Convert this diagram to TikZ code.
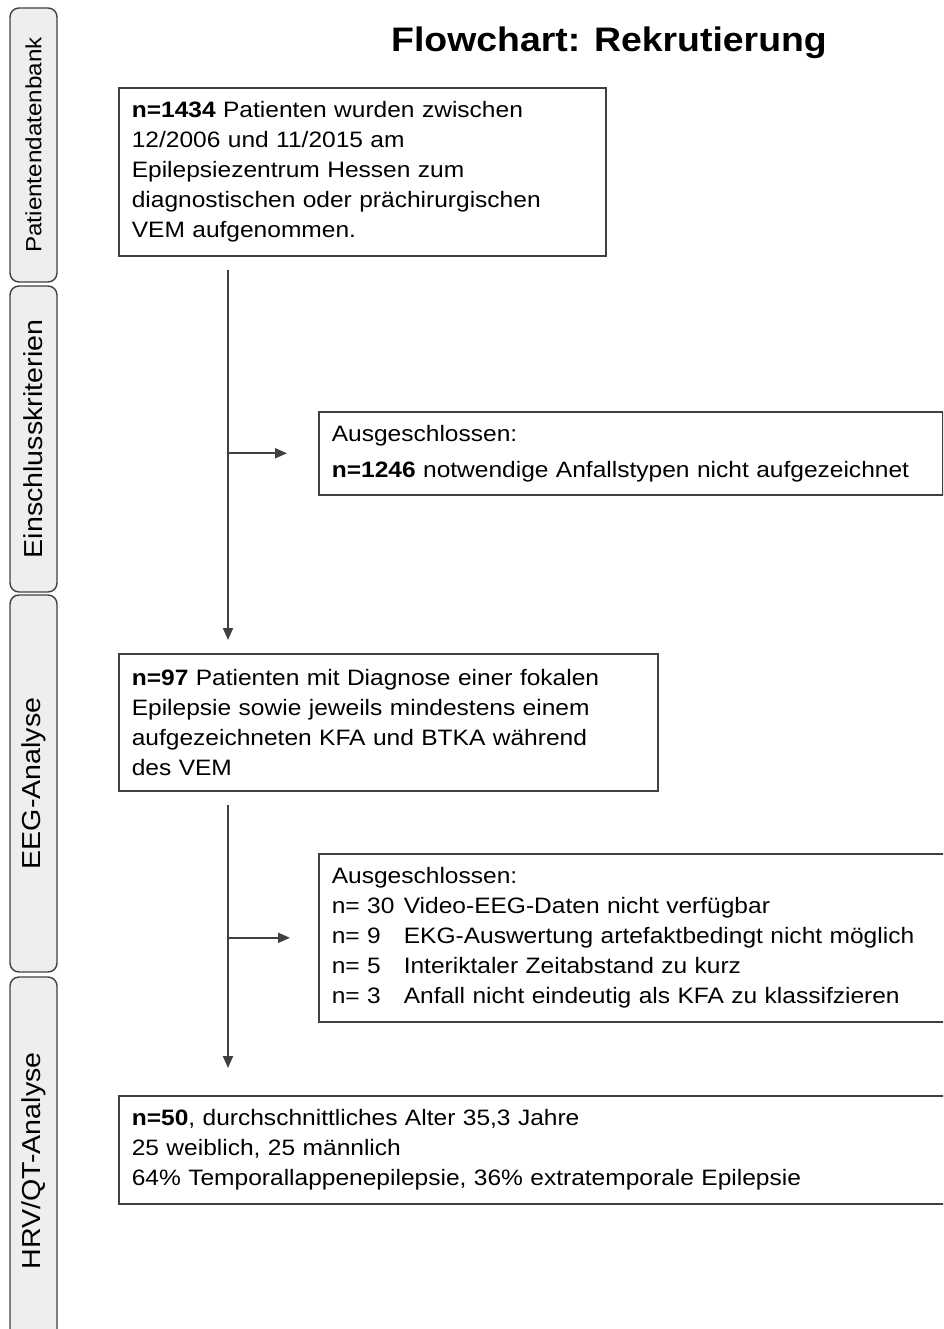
\documentclass[tikz,border=0pt]{standalone}
\usepackage{fontspec}
\setmainfont{Liberation Sans}[FakeStretch=1.1]
\usepackage{xcolor}
\usetikzlibrary{arrows.meta,positioning}
\definecolor{edgegray}{RGB}{64,64,64}
\definecolor{barfill}{RGB}{238,238,238}
\newcommand{\exclrow}[2]{\makebox[72pt][l]{#1}#2}

\begin{document}
\begin{tikzpicture}[x=1pt,y=-1pt,
  font=\fontsize{22.3}{30}\selectfont,
  box/.style={draw=edgegray,line width=1.6pt,anchor=north west,align=left,inner xsep=13pt,inner ysep=0pt},
  bar/.style={draw=edgegray,fill=barfill,line width=1.4pt,rounded corners=9pt,rotate=90,
    minimum height=47pt,inner sep=0pt,font=\fontsize{26}{30}\selectfont},
  arr/.style={-{Triangle[length=12pt,width=10pt]},draw=edgegray,line width=1.9pt}]
\useasboundingbox (0,0) rectangle (943,1329);
\clip (0,0) rectangle (943,1329);
% phase bars on the left
\node[bar,minimum width=274pt,font=\fontsize{22}{30}\selectfont] (pdb) at (33.5,145) {Patientendatenbank};
\node[bar,minimum width=306pt] (ein) at (33.5,439) {Einschlusskriterien};
\node[bar,minimum width=377pt] (eeg) at (33.5,783.5) {EEG-Analyse};
\node[bar,minimum width=368pt] (hrv) at (33.5,1161) {HRV/QT-Analyse};
\node[font=\fontsize{34}{40}\selectfont\bfseries,anchor=base] (title) at (609,52) {Flowchart: Rekrutierung};
% flow boxes
\node[box,text width=461pt,minimum height=168pt] (pool) at (118,87)
  {\textbf{n=1434} Patienten wurden zwischen\\12/2006 und 11/2015 am\\Epilepsiezentrum Hessen zum\\diagnostischen oder prächirurgischen\\VEM aufgenommen.};
\node[box,text width=598pt,minimum height=83pt] (excl1) at (318,411)
  {Ausgeschlossen:\\[6pt]\textbf{n=1246} notwendige Anfallstypen nicht aufgezeichnet};
\node[box,text width=513pt,minimum height=137pt] (epi) at (118,653)
  {\textbf{n=97} Patienten mit Diagnose einer fokalen\\Epilepsie sowie jeweils mindestens einem\\aufgezeichneten KFA und BTKA während\\des VEM};
\node[box,text width=640pt,minimum height=168pt] (excl2) at (318,853)
  {Ausgeschlossen:\\\exclrow{n= 30}{Video-EEG-Daten nicht verfügbar}\\\exclrow{n= 9}{EKG-Auswertung artefaktbedingt nicht möglich}\\\exclrow{n= 5}{Interiktaler Zeitabstand zu kurz}\\\exclrow{n= 3}{Anfall nicht eindeutig als KFA zu klassifzieren}};
\node[box,text width=840pt,minimum height=108pt] (final) at (118,1095)
  {\textbf{n=50}, durchschnittliches Alter 35,3 Jahre\\25 weiblich, 25 männlich\\64\% Temporallappenepilepsie, 36\% extratemporale Epilepsie};
% connectors
\coordinate (spine) at (228,0);
\draw[arr,shorten <=13pt,shorten >=13pt] (pool.south -| spine) -- (epi.north -| spine);
\draw[arr,shorten >=31pt] (excl1.west -| spine) -- (excl1.west);
\draw[arr,shorten <=13pt,shorten >=27pt] (epi.south -| spine) -- (final.north -| spine);
\draw[arr,shorten >=28pt] (excl2.west -| spine) -- (excl2.west);
\end{tikzpicture}
\end{document}
